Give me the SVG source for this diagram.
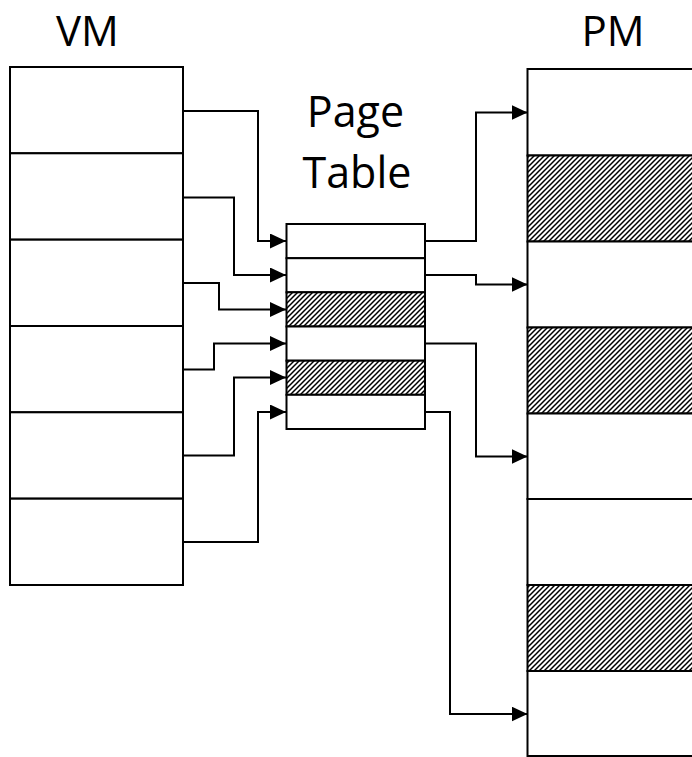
<svg xmlns="http://www.w3.org/2000/svg" width="692" height="757" viewBox="0 0 692 757">
<style>
.box{fill:#fff;stroke:#000;stroke-width:2}
.hatch{fill:url(#hatch);stroke:#000;stroke-width:2}
.conn{fill:none;stroke:#000;stroke-width:2;marker-end:url(#arrow)}
.label{font-family:"Open Sans","Liberation Sans",sans-serif;font-size:43px;fill:#000;text-anchor:middle}
.title{font-size:42px}
</style>
<defs>
<pattern id="hatch" patternUnits="userSpaceOnUse" width="5" height="5">
<rect width="5" height="5" fill="#fff"/>
<path d="M-1,1 L1,-1 M0,5 L5,0 M4,6 L6,4" stroke="#000" stroke-width="1.5"/>
</pattern>
<marker id="arrow" markerUnits="userSpaceOnUse" markerWidth="17" markerHeight="16" refX="16" refY="7.5" orient="auto">
<path d="M0,0 L16,7.5 L0,15 z" fill="#000"/>
</marker>
</defs>
<rect width="692" height="757" fill="#fff"/>

<g id="vm">
<text class="label title" x="87.5" y="45.5">VM</text>
<rect class="box" x="10" y="67" width="173" height="86.3"/>
<rect class="box" x="10" y="153.3" width="173" height="86.3"/>
<rect class="box" x="10" y="239.7" width="173" height="86.3"/>
<rect class="box" x="10" y="326" width="173" height="86.3"/>
<rect class="box" x="10" y="412.3" width="173" height="86.3"/>
<rect class="box" x="10" y="498.7" width="173" height="86.3"/>
</g>

<g id="page-table">
<text class="label" x="355.5" y="127">Page</text>
<text class="label" x="357" y="188">Table</text>
<rect class="box" x="286.5" y="224" width="138.5" height="34.2"/>
<rect class="box" x="286.5" y="258.2" width="138.5" height="34.1"/>
<rect class="hatch" x="286.5" y="292.3" width="138.5" height="34.2"/>
<rect class="box" x="286.5" y="326.5" width="138.5" height="34.2"/>
<rect class="hatch" x="286.5" y="360.7" width="138.5" height="34.1"/>
<rect class="box" x="286.5" y="394.8" width="138.5" height="34.2"/>
</g>

<g id="pm">
<text class="label title" x="613" y="45.5">PM</text>
<rect class="box" x="527.5" y="69" width="180" height="86.5"/>
<rect class="hatch" x="527.5" y="155.5" width="180" height="86"/>
<rect class="box" x="527.5" y="241.5" width="180" height="86"/>
<rect class="hatch" x="527.5" y="327.5" width="180" height="86"/>
<rect class="box" x="527.5" y="413.5" width="180" height="85.5"/>
<rect class="box" x="527.5" y="499" width="180" height="86"/>
<rect class="hatch" x="527.5" y="585" width="180" height="86"/>
<rect class="box" x="527.5" y="671" width="180" height="85"/>
</g>

<g id="connectors">
<path class="conn" d="M183,111 H258 V241 H286"/>
<path class="conn" d="M183,197.5 H234 V275 H286"/>
<path class="conn" d="M183,283 H219 V309.5 H286"/>
<path class="conn" d="M183,369.5 H214 V343.5 H286"/>
<path class="conn" d="M183,455.5 H234 V377.5 H286"/>
<path class="conn" d="M183,542 H258 V412 H286"/>
<path class="conn" d="M425,241 H476 V112.5 H527.5"/>
<path class="conn" d="M425,275 H476 V284.5 H527.5"/>
<path class="conn" d="M425,343.5 H476 V456.5 H527.5"/>
<path class="conn" d="M425,412 H450 V714 H527.5"/>
</g>
</svg>
